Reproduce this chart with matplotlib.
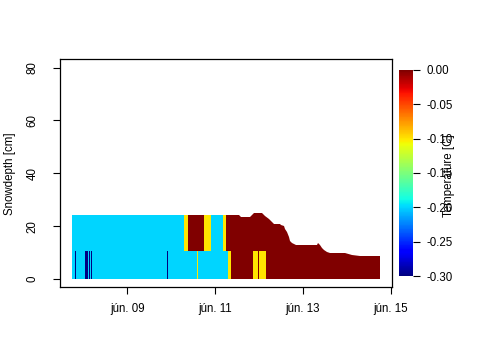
import numpy as np
import matplotlib
matplotlib.use("Agg")
import matplotlib.pyplot as plt
from matplotlib.patches import Polygon

plt.rcParams['font.family'] = ['Liberation Sans', 'DejaVu Sans']
FS = 8.3

# ---- data (x = day of June, fractional) ----
layer_bounds = [0.0, 10.7, 30.0]   # cm: lower layer, upper layer

upper_edges = [7.734, 10.286, 10.386, 10.741, 10.893, 11.173, 11.234, 14.757]
upper_temp = [-0.20, -0.10, 0.0, -0.10, -0.20, -0.10, 0.0]

lower_edges = [7.734, 7.802, 7.825, 8.030, 8.091, 8.120, 8.140, 8.166, 8.186,
               9.893, 9.916, 10.575, 10.598, 11.286, 11.348, 11.870, 11.968,
               12.007, 12.159, 14.757]
lower_temp = [-0.20, -0.30, -0.20, -0.30, -0.20, -0.30, -0.20, -0.30, -0.20,
              -0.30, -0.20, -0.10, -0.20, -0.10, 0.0, -0.10, 0.0, -0.10, 0.0]

snow_time = [7.734, 11.234, 11.552, 11.591, 11.802, 11.877, 11.955, 12.030,
             12.068, 12.143, 12.218, 12.295, 12.332, 12.468, 12.500, 12.559,
             12.598, 12.636, 12.673, 12.711, 12.750, 12.832, 13.318, 13.340,
             13.393, 13.432, 13.484, 13.545, 13.620, 13.695, 13.961, 14.114,
             14.302, 14.757]
snow_depth = [24.4, 24.4, 24.4, 23.6, 23.6, 24.8, 25.1, 25.1, 24.8, 24.0,
              22.7, 21.5, 20.9, 20.9, 20.6, 20.2, 19.0, 17.8, 15.9, 14.5,
              13.8, 12.9, 12.9, 13.5, 12.7, 11.7, 10.8, 10.3, 10.0, 9.8,
              9.8, 9.1, 8.8, 8.8]

x_ticks = [9, 11, 13, 15]
x_labels = ['jún. 09', 'jún. 11', 'jún. 13', 'jún. 15']
y_ticks = [0, 20, 40, 60, 80]
cb_ticks = [-0.30, -0.25, -0.20, -0.15, -0.10, -0.05, 0.00]

fig = plt.figure(figsize=(4.8, 3.6), dpi=100)
ax = fig.add_axes([0.124, 0.2014, 0.6937, 0.6346])

cmap = plt.get_cmap('jet')
vmin, vmax = -0.30, 0.0

poly_x = list(snow_time) + [snow_time[-1], snow_time[0]]
poly_y = list(snow_depth) + [0.0, 0.0]
clip = Polygon(np.column_stack([poly_x, poly_y]), closed=True,
               transform=ax.transData, facecolor='none', edgecolor='none')

meshes = []
for edges, temps, (y0, y1) in [(lower_edges, lower_temp, layer_bounds[0:2]),
                               (upper_edges, upper_temp, layer_bounds[1:3])]:
    m = ax.pcolormesh(np.array(edges), np.array([y0, y1]),
                      np.array([temps]), cmap=cmap, vmin=vmin, vmax=vmax,
                      shading='flat', antialiased=False, linewidth=0)
    m.set_clip_path(clip)
    meshes.append(m)

ax.set_xlim(7.453, 15.038)
ax.set_ylim(-3.2, 83.2)
ax.set_xticks(x_ticks)
ax.set_xticklabels(x_labels, fontsize=FS)
ax.set_yticks(y_ticks)
ax.set_yticklabels([str(v) for v in y_ticks], fontsize=FS, rotation=90,
                   va='center')
ax.tick_params(axis='both', length=5, width=0.8, color='black')
ax.tick_params(axis='x', pad=6)
ax.tick_params(axis='y', pad=10)
for s in ax.spines.values():
    s.set_linewidth(0.9)
ax.set_ylabel('Snowdepth [cm]', fontsize=FS, labelpad=8)

cax = fig.add_axes([0.832, 0.2333, 0.028, 0.5723])
cb = fig.colorbar(meshes[0], cax=cax, ticks=cb_ticks)
cb.ax.set_yticklabels(['%.2f' % t for t in cb_ticks], fontsize=FS)
cb.ax.tick_params(length=5, width=0.8, pad=5)
cb.outline.set_visible(False)
fig.text(449 / 480, 1 - 176 / 360, 'Temperature [C]', rotation=90,
         ha='center', va='center', fontsize=FS)

fig.savefig('out.png', dpi=100)
